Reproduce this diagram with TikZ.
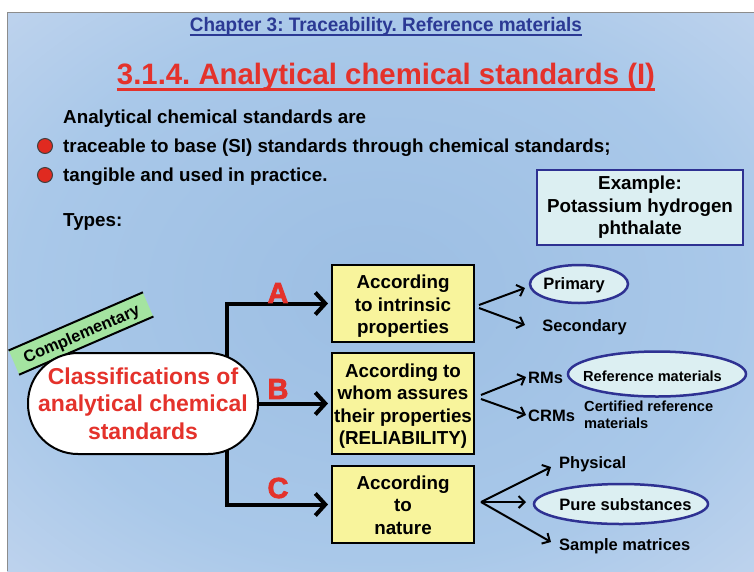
\documentclass[tikz,border=0pt]{standalone}
\usepackage{fontspec}
\setmainfont{Liberation Sans}
\newfontfamily\heavyfont[FakeBold=2.5]{Liberation Sans Bold}
\usepackage{graphicx}
\usetikzlibrary{arrows.meta,shapes.geometric,calc}
\definecolor{titleblue}{HTML}{2B3994}
\definecolor{titlered}{HTML}{E4322B}
\definecolor{bulletred}{HTML}{E02A20}
\definecolor{boxyellow}{HTML}{F8F49C}
\definecolor{ovalfill}{HTML}{DCEFF2}
\definecolor{ovalborder}{HTML}{2E3192}
\definecolor{compgreen}{HTML}{A4E4A0}
\definecolor{bgA}{HTML}{9CBEE3}
\definecolor{bgB}{HTML}{A9C8E9}
\definecolor{bgC}{HTML}{C2D5EE}
\definecolor{bgD}{HTML}{DEE0F3}
\definecolor{bgE}{HTML}{EEE6F6}
\definecolor{bgF}{HTML}{F5EBF8}
\pgfdeclareradialshading{slidebg}{\pgfpoint{0bp}{0bp}}{color(0bp)=(bgA); color(24bp)=(bgB); color(38bp)=(bgC); color(50bp)=(bgD); color(60bp)=(bgE); color(72bp)=(bgF)}
\pgfdeclarelayer{background}
\pgfsetlayers{background,main}
\newcommand{\bodyfont}{\fontsize{18.8}{22.4}\selectfont\bfseries}
\newcommand{\rightfont}{\fontsize{16.5}{19}\selectfont\bfseries}
\newcommand{\smallfont}{\fontsize{14.6}{17}\selectfont\bfseries}
\frenchspacing
\begin{document}
\begin{tikzpicture}[x=1pt,y=-1pt,
  bodytext/.style={anchor=base west,inner sep=0,font=\bodyfont},
  bulletdot/.style={circle,fill=bulletred,draw=black!75,line width=1,minimum size=15,inner sep=0},
  yellowbox/.style={rectangle,fill=boxyellow,draw=black,line width=2,minimum width=142,inner sep=0},
  boxtext/.style={inner sep=0,align=center,font=\bodyfont},
  blueoval/.style={ellipse,fill=ovalfill,draw=ovalborder,line width=2.5,inner sep=0},
  conn/.style={line width=4,-{Straight Barb[length=10pt,width=22pt]}},
  thinarrow/.style={line width=2,-{Straight Barb[length=6pt,width=12pt]}},
  letter/.style={text=titlered,font=\fontsize{29}{30}\selectfont\heavyfont,inner sep=0},
  rlabel/.style={inner sep=0,font=\rightfont}]
\useasboundingbox (0,0) rectangle (754,571);
\begin{pgfonlayer}{background}
\fill[white] (0,0) rectangle (754,571);
\shade[shading=slidebg] (7,12) rectangle (754,571);
\draw[black!45,line width=1] (7,571) -- (7,12) -- (754,12);
\end{pgfonlayer}

% titles
\node[anchor=base,inner sep=0,text=titleblue] (chap) at (386,31)
  {\resizebox{392pt}{\height}{\fontsize{19.5}{20}\selectfont\bfseries Chapter 3: Traceability. Reference materials}};
\draw[titleblue,line width=2.2] ([yshift=-4]chap.base west) -- ([yshift=-4]chap.base east);
\node[anchor=base,inner sep=0,text=titlered] (title) at (386,84)
  {\resizebox{538pt}{\height}{\fontsize{29.5}{30}\selectfont\bfseries 3.1.4. Analytical chemical standards (I)}};
\draw[titlered,line width=3.5] ([yshift=-5.5]title.base west) -- ([yshift=-5.5]title.base east);

% intro text
\node[bodytext] (intro) at (63,123) {Analytical chemical standards are};
\node[bulletdot] (b1) at (45,146) {};
\node[bodytext] (t1) at (63,152) {traceable to base (SI) standards through chemical standards;};
\node[bulletdot] (b2) at (45,175) {};
\node[bodytext] (t2) at (63,181) {tangible and used in practice.};
\node[bodytext] (types) at (63,226) {Types:};

% example
\node[rectangle,fill=ovalfill,draw=ovalborder,line width=2,minimum width=206,minimum height=75,inner sep=0,align=center,font=\bodyfont] (example) at (640,207.5)
  {Example:\\Potassium hydrogen\\phthalate};

% complementary
\node[rotate=23.4,fill=compgreen,minimum width=146,minimum height=26,inner sep=0] (comp) at (81,333.5) {};
\node[rotate=23.4,inner sep=0,font=\fontsize{16.5}{17}\selectfont\bfseries] (comptext) at (82,335) {Complementary};
\draw[black,line width=2] (comp.north west) -- (comp.north east);
\draw[black,line width=2] (comp.south west) -- (comp.south east);

% classification oval
\node[rectangle,rounded corners=50,fill=white,draw=black,line width=2,minimum width=230,minimum height=101,inner sep=0,align=center,text=titlered,font=\fontsize{23}{27.5}\selectfont\bfseries] (cls) at (143,403.5)
  {Classifications of\\analytical chemical\\standards};

% yellow boxes
\node[yellowbox,minimum height=77] (boxA) at (403,303.5) {};
\node[boxtext] (boxAtext) at ([yshift=-3]boxA.center) {According\\to intrinsic\\properties};
\node[yellowbox,minimum height=101] (boxB) at (403,403.5) {};
\node[boxtext] (boxBtext) at ([yshift=-2.5]boxB.center) {According to\\whom assures\\their properties\\(RELIABILITY)};
\node[yellowbox,minimum height=77] (boxC) at (403,504.5) {};
\node[boxtext] (boxCtext) at ([yshift=-0.5]boxC.center) {According\\to\\nature};

% connectors
\coordinate (trunk) at (227,0);
\begin{pgfonlayer}{background}
\draw[conn,shorten >=3] (cls.center -| trunk) |- (boxA.west);
\draw[conn,shorten >=3] (cls.center -| trunk) |- (boxC.west);
\end{pgfonlayer}
\draw[conn,shorten >=3] (cls.east) -- (boxB.west);

\node[letter] (lA) at (278,293) {A};
\node[letter] (lB) at (278,389) {B};
\node[letter] (lC) at (278,488) {C};

% right side
\node[blueoval,minimum width=98,minimum height=38] (prim) at (579,284) {};
\node[rlabel] (primtext) at (574,285) {Primary};
\node[rlabel] (sec) at (584.5,327) {Secondary};
\node[rlabel,anchor=west] (rms) at (528,377.5) {RMs};
\node[rlabel,anchor=west] (crms) at (528,415.5) {CRMs};
\node[blueoval,minimum width=178,minimum height=45] (refm) at (657,374) {};
\node[inner sep=0,font=\smallfont] (refmtext) at (652.5,376) {Reference materials};
\node[inner sep=0,anchor=north west,align=left,font=\smallfont] (crm) at (584,401) {Certified reference\\materials};
\node[rlabel,anchor=west] (phys) at (559,464) {Physical};
\node[blueoval,minimum width=174,minimum height=40] (pure) at (621,504) {};
\node[rlabel] (puretext) at (625.5,504.5) {Pure substances};
\node[rlabel,anchor=west] (samp) at (559,546) {Sample matrices};

\coordinate (tA1) at (525,288);
\coordinate (tA2) at (525,325);
\coordinate (tB1) at (526,377);
\coordinate (tB2) at (526,415);
\coordinate (tC1) at (551,467);
\coordinate (tC2) at (526,502);
\coordinate (tC3) at (551,542);
\draw[thinarrow] ([xshift=4,yshift=-1.5]boxA.east) -- (tA1);
\draw[thinarrow] ([xshift=4,yshift=-4.5]boxA.east) -- (tA2);
\draw[thinarrow] ([xshift=6,yshift=8.5]boxB.east) -- (tB1);
\draw[thinarrow] ([xshift=6,yshift=4.5]boxB.east) -- (tB2);
\draw[thinarrow] ([xshift=6,yshift=2.5]boxC.east) -- (tC1);
\draw[thinarrow] ([xshift=6,yshift=2.5]boxC.east) -- (tC2);
\draw[thinarrow] ([xshift=6,yshift=2.5]boxC.east) -- (tC3);
\end{tikzpicture}
\end{document}
